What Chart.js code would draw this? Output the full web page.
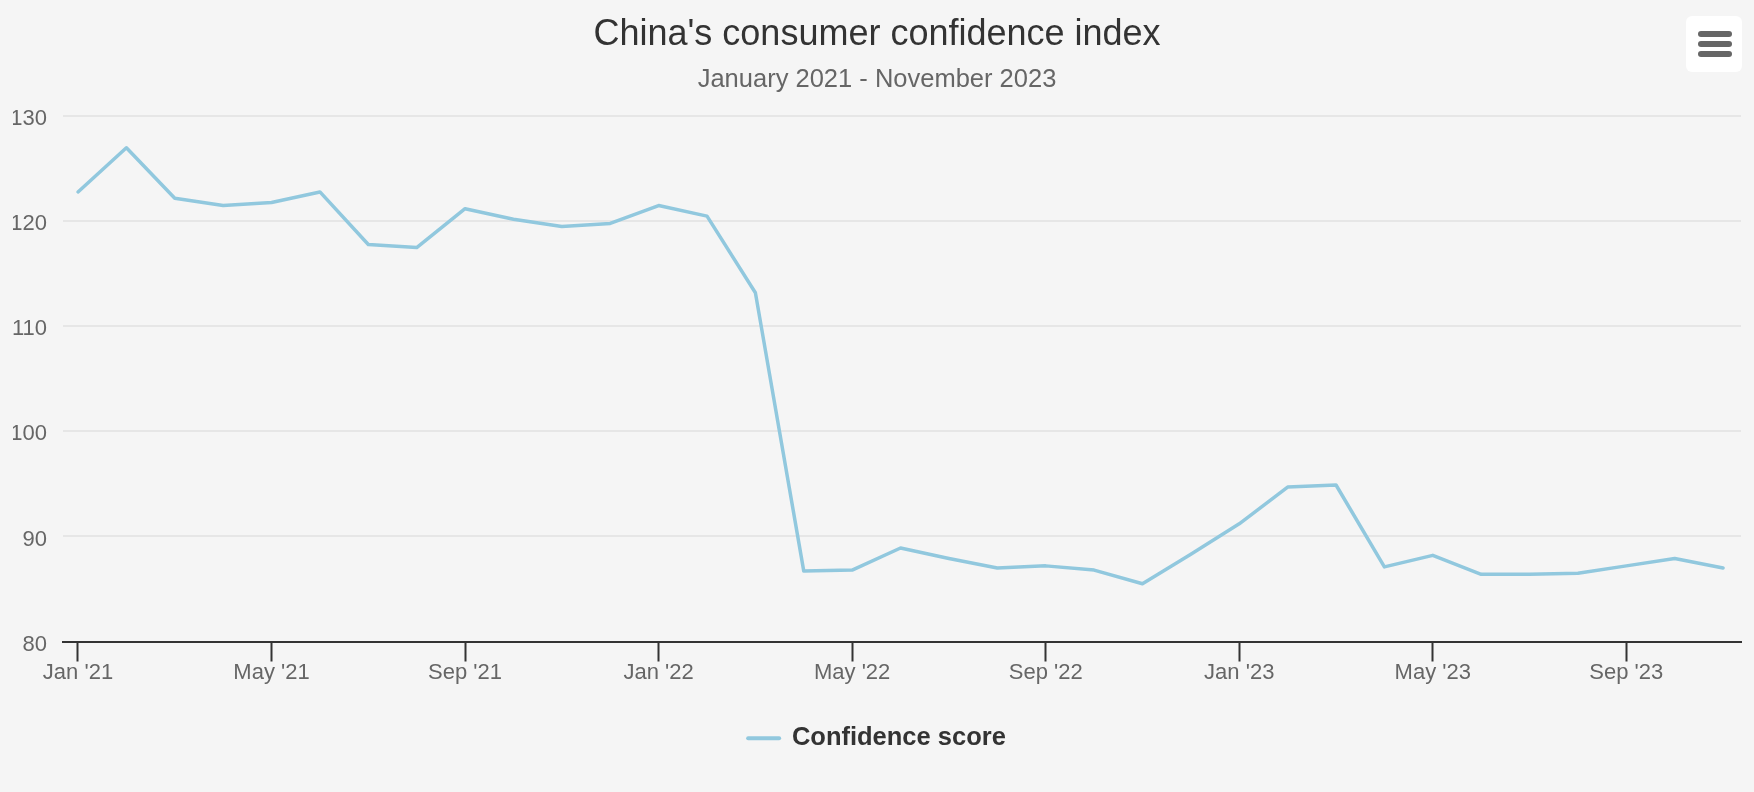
<!DOCTYPE html>
<html>
<head>
<meta charset="utf-8">
<title>China's consumer confidence index</title>
<script src="https://cdn.jsdelivr.net/npm/chart.js@4.4.1/dist/chart.umd.min.js"></script>
<style>
  html, body { margin: 0; padding: 0; background: #f5f5f5; }
  #wrap { position: relative; width: 1754px; height: 792px; }
  #menuBtn {
    position: absolute; left: 1686px; top: 16px; width: 56px; height: 56px;
    background: #fff; border-radius: 6px;
  }
  #menuBtn span {
    position: absolute; left: 12px; width: 34px; height: 6px;
    background: #666; border-radius: 3px;
  }
</style>
</head>
<body>
<div id="wrap">
  <canvas id="lineChart" width="1754" height="792"></canvas>
  <div id="menuBtn"><span style="top:15px"></span><span style="top:25px"></span><span style="top:35px"></span></div>
</div>
<script>
// months Jan 2021 - Nov 2023
var months = [
  "Jan '21", "Feb '21", "Mar '21", "Apr '21", "May '21", "Jun '21",
  "Jul '21", "Aug '21", "Sep '21", "Oct '21", "Nov '21", "Dec '21",
  "Jan '22", "Feb '22", "Mar '22", "Apr '22", "May '22", "Jun '22",
  "Jul '22", "Aug '22", "Sep '22", "Oct '22", "Nov '22", "Dec '22",
  "Jan '23", "Feb '23", "Mar '23", "Apr '23", "May '23", "Jun '23",
  "Jul '23", "Aug '23", "Sep '23", "Oct '23", "Nov '23"
];

var scores = [
  122.8, 127.0, 122.2, 121.5, 121.8, 122.8,
  117.8, 117.5, 121.2, 120.2, 119.5, 119.8,
  121.5, 120.5, 113.2, 86.7, 86.8, 88.9,
  87.9, 87.0, 87.2, 86.8, 85.5, 88.3,
  91.2, 94.7, 94.9, 87.1, 88.2, 86.4,
  86.4, 86.5, 87.2, 87.9, 87.0
];

var yTicks = [80, 90, 100, 110, 120, 130];
var xTickEvery = 4; // a label every 4 months

var fontFamily = "'Liberation Sans', Arial, Helvetica, sans-serif";

var points = scores.map(function (v, i) { return { x: i, y: v }; });

var ctx = document.getElementById("lineChart").getContext('2d');
var myLineChart = new Chart(ctx, {
  type: 'line',
  data: {
    datasets: [{
      label: "Confidence score",
      data: points,
      borderColor: '#91c8de',
      backgroundColor: 'rgba(0, 0, 0, 0)',
      borderWidth: 3.5,
      borderJoinStyle: 'round',
      borderCapStyle: 'round',
      pointRadius: 0,
      pointHoverRadius: 0,
      tension: 0
    }]
  },
  options: {
    responsive: false,
    animation: false,
    devicePixelRatio: 1,
    layout: {
      padding: { left: 13, right: 13, top: 0, bottom: 31 }
    },
    plugins: {
      title: {
        display: true,
        text: "China's consumer confidence index",
        color: '#333333',
        font: { family: fontFamily, size: 36, weight: 'normal' },
        padding: { top: 13.5, bottom: 0 }
      },
      subtitle: {
        display: true,
        text: "January 2021 - November 2023",
        color: '#666666',
        font: { family: fontFamily, size: 25.5, weight: 'normal' },
        padding: { top: 8, bottom: 21 }
      },
      legend: {
        position: 'bottom',
        labels: {
          color: '#333333',
          font: { family: fontFamily, size: 25.5, weight: 'bold' },
          usePointStyle: true,
          pointStyleWidth: 31,
          padding: 10,
          generateLabels: function (chart) {
            var items = Chart.defaults.plugins.legend.labels.generateLabels(chart);
            items.forEach(function (it) {
              it.pointStyle = 'line';
              it.lineWidth = 4;
              it.lineCap = 'round';
            });
            return items;
          }
        }
      },
      tooltip: { enabled: false }
    },
    scales: {
      x: {
        type: 'linear',
        min: -0.31,
        max: 34.37,
        afterBuildTicks: function (scale) {
          var t = [];
          for (var i = 0; i < months.length; i += xTickEvery) t.push({ value: i });
          scale.ticks = t;
        },
        afterFit: function (scale) { scale.height = 74; },
        grid: {
          drawOnChartArea: false,
          drawTicks: true,
          tickLength: 20,
          tickWidth: 2,
          tickColor: '#333333'
        },
        border: { display: true, color: '#333333', width: 2 },
        ticks: {
          autoSkip: false,
          maxRotation: 0,
          padding: -2,
          color: '#666666',
          font: { family: fontFamily, size: 22 },
          callback: function (value) { return months[value]; }
        }
      },
      y: {
        min: yTicks[0],
        max: yTicks[yTicks.length - 1],
        afterBuildTicks: function (scale) {
          scale.ticks = yTicks.map(function (v) { return { value: v }; });
        },
        afterFit: function (scale) { scale.width = 50; },
        grid: {
          color: '#e6e6e6',
          lineWidth: 2,
          drawTicks: false
        },
        border: { display: false },
        ticks: {
          padding: 16,
          labelOffset: 3,
          color: '#666666',
          font: { family: fontFamily, size: 22 }
        }
      }
    }
  }
});
</script>
</body>
</html>
